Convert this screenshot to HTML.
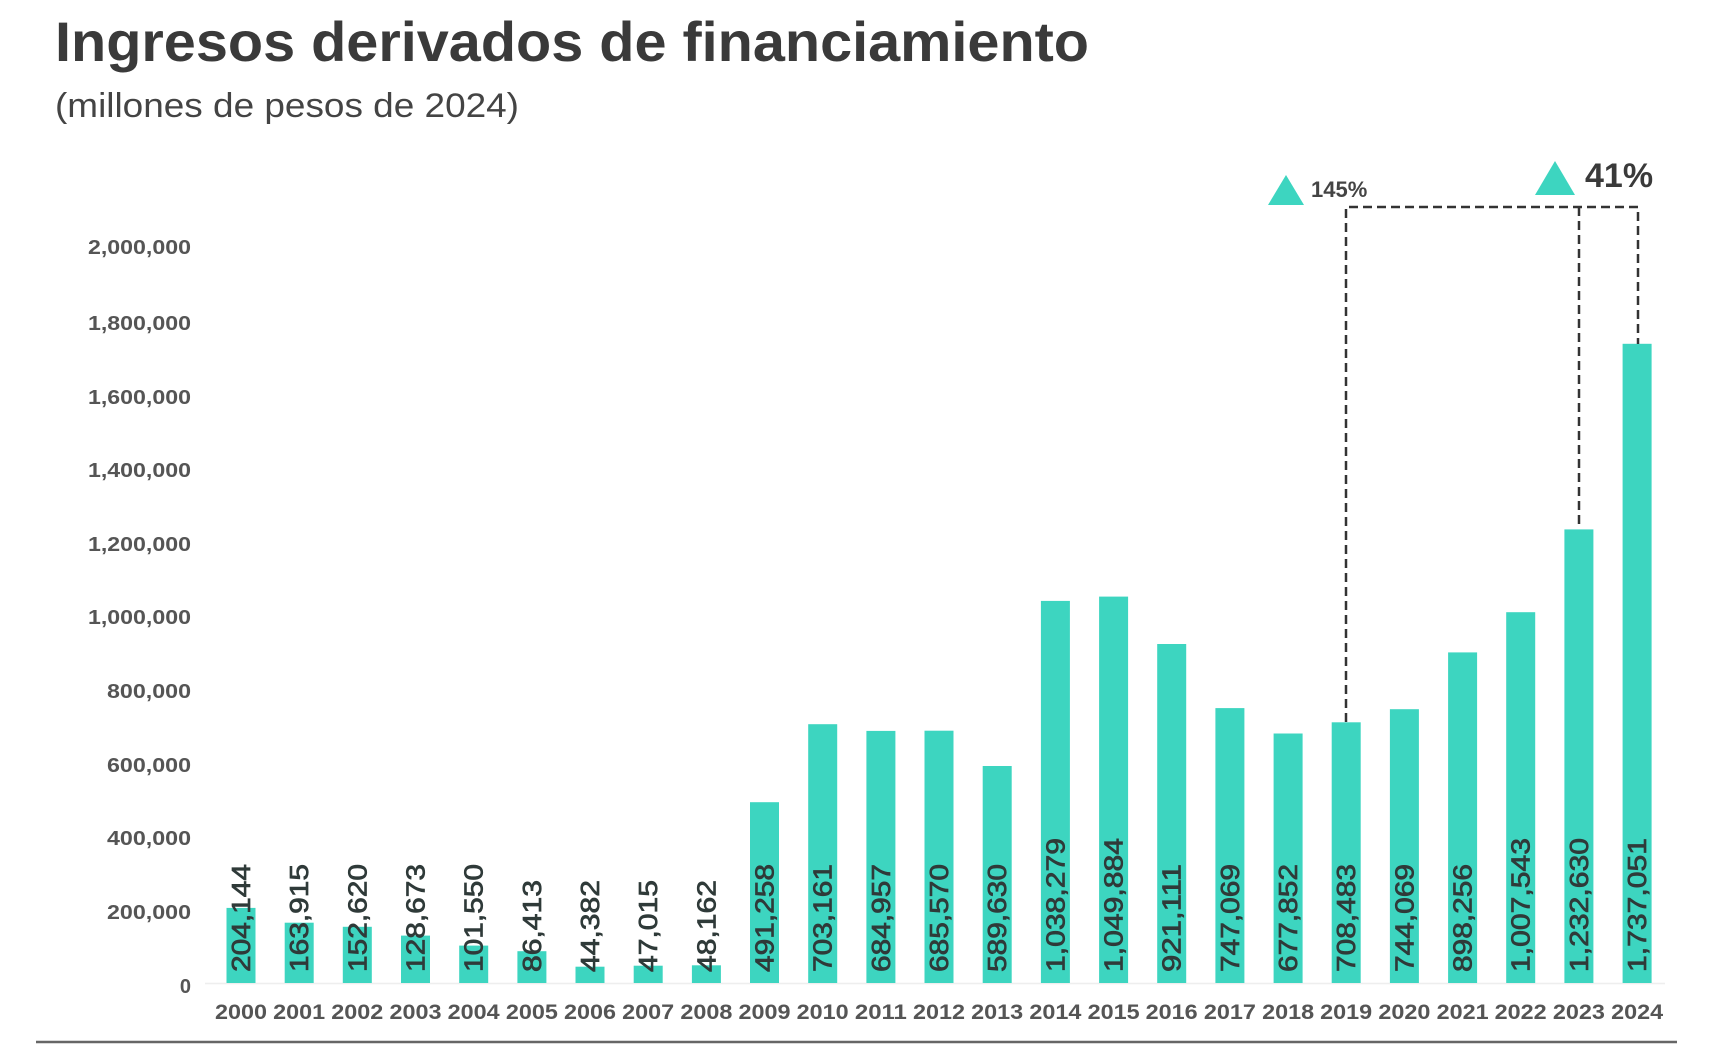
<!DOCTYPE html>
<html><head><meta charset="utf-8"><style>
html,body{margin:0;padding:0;background:#fff;}
svg{display:block;font-family:"Liberation Sans",Arial,sans-serif;}
.yl{font-size:20px;font-weight:bold;fill:#555;text-anchor:end;}
.xl{font-size:21px;font-weight:bold;fill:#555;text-anchor:middle;}
.v{font-size:26px;fill:#2f3a39;stroke:#2f3a39;stroke-width:0.7;}
rect{fill:#3dd5c0;}
</style></head><body>
<svg width="1724" height="1045" viewBox="0 0 1724 1045">
<text x="55" y="61" font-size="56" font-weight="bold" fill="#3a3a3a" textLength="1034" lengthAdjust="spacingAndGlyphs">Ingresos derivados de financiamiento</text>
<text x="55" y="117" font-size="34" fill="#444" textLength="464" lengthAdjust="spacingAndGlyphs">(millones de pesos de 2024)</text>

<g class="yl">
<text x="191" y="254" textLength="103" lengthAdjust="spacingAndGlyphs">2,000,000</text>
<text x="191" y="330" textLength="103" lengthAdjust="spacingAndGlyphs">1,800,000</text>
<text x="191" y="404" textLength="103" lengthAdjust="spacingAndGlyphs">1,600,000</text>
<text x="191" y="477" textLength="103" lengthAdjust="spacingAndGlyphs">1,400,000</text>
<text x="191" y="551" textLength="103" lengthAdjust="spacingAndGlyphs">1,200,000</text>
<text x="191" y="624" textLength="103" lengthAdjust="spacingAndGlyphs">1,000,000</text>
<text x="191" y="698" textLength="84" lengthAdjust="spacingAndGlyphs">800,000</text>
<text x="191" y="772" textLength="84" lengthAdjust="spacingAndGlyphs">600,000</text>
<text x="191" y="845" textLength="84" lengthAdjust="spacingAndGlyphs">400,000</text>
<text x="191" y="919" textLength="84" lengthAdjust="spacingAndGlyphs">200,000</text>
<text x="191" y="993">0</text>
</g>
<line x1="205" y1="983.5" x2="1665" y2="983.5" stroke="#eee" stroke-width="1.5"/>

<g>
<rect x="226.5" y="907.9" width="29" height="75.1"/>
<rect x="284.7" y="922.7" width="29" height="60.3"/>
<rect x="342.8" y="926.8" width="29" height="56.2"/>
<rect x="401.0" y="935.6" width="29" height="47.4"/>
<rect x="459.2" y="945.6" width="29" height="37.4"/>
<rect x="517.4" y="951.2" width="29" height="31.8"/>
<rect x="575.5" y="966.7" width="29" height="16.3"/>
<rect x="633.7" y="965.7" width="29" height="17.3"/>
<rect x="691.9" y="965.3" width="29" height="17.7"/>
<rect x="750.0" y="802.2" width="29" height="180.8"/>
<rect x="808.2" y="724.2" width="29" height="258.8"/>
<rect x="866.4" y="730.9" width="29" height="252.1"/>
<rect x="924.5" y="730.7" width="29" height="252.3"/>
<rect x="982.7" y="766.0" width="29" height="217.0"/>
<rect x="1040.9" y="600.9" width="29" height="382.1"/>
<rect x="1099.1" y="596.6" width="29" height="386.4"/>
<rect x="1157.2" y="644.0" width="29" height="339.0"/>
<rect x="1215.4" y="708.1" width="29" height="274.9"/>
<rect x="1273.6" y="733.5" width="29" height="249.5"/>
<rect x="1331.7" y="722.3" width="29" height="260.7"/>
<rect x="1389.9" y="709.2" width="29" height="273.8"/>
<rect x="1448.1" y="652.4" width="29" height="330.6"/>
<rect x="1506.2" y="612.2" width="29" height="370.8"/>
<rect x="1564.4" y="529.4" width="29" height="453.6"/>
<rect x="1622.6" y="343.8" width="29" height="639.2"/>
</g>

<g class="v">
<text transform="translate(250,972) rotate(-90)" textLength="108" lengthAdjust="spacingAndGlyphs">204,144</text>
<text transform="translate(308.2,972) rotate(-90)" textLength="108" lengthAdjust="spacingAndGlyphs">163,915</text>
<text transform="translate(366.3,972) rotate(-90)" textLength="108" lengthAdjust="spacingAndGlyphs">152,620</text>
<text transform="translate(424.5,972) rotate(-90)" textLength="108" lengthAdjust="spacingAndGlyphs">128,673</text>
<text transform="translate(482.7,972) rotate(-90)" textLength="108" lengthAdjust="spacingAndGlyphs">101,550</text>
<text transform="translate(540.9,972) rotate(-90)" textLength="92" lengthAdjust="spacingAndGlyphs">86,413</text>
<text transform="translate(599,972) rotate(-90)" textLength="92" lengthAdjust="spacingAndGlyphs">44,382</text>
<text transform="translate(657.2,972) rotate(-90)" textLength="92" lengthAdjust="spacingAndGlyphs">47,015</text>
<text transform="translate(715.4,972) rotate(-90)" textLength="92" lengthAdjust="spacingAndGlyphs">48,162</text>
<text transform="translate(773.5,972) rotate(-90)" textLength="108" lengthAdjust="spacingAndGlyphs">491,258</text>
<text transform="translate(831.7,972) rotate(-90)" textLength="108" lengthAdjust="spacingAndGlyphs">703,161</text>
<text transform="translate(889.9,972) rotate(-90)" textLength="108" lengthAdjust="spacingAndGlyphs">684,957</text>
<text transform="translate(948,972) rotate(-90)" textLength="108" lengthAdjust="spacingAndGlyphs">685,570</text>
<text transform="translate(1006.2,972) rotate(-90)" textLength="108" lengthAdjust="spacingAndGlyphs">589,630</text>
<text transform="translate(1064.4,972) rotate(-90)" textLength="134" lengthAdjust="spacingAndGlyphs">1,038,279</text>
<text transform="translate(1122.6,972) rotate(-90)" textLength="134" lengthAdjust="spacingAndGlyphs">1,049,884</text>
<text transform="translate(1180.7,972) rotate(-90)" textLength="108" lengthAdjust="spacingAndGlyphs">921,111</text>
<text transform="translate(1238.9,972) rotate(-90)" textLength="108" lengthAdjust="spacingAndGlyphs">747,069</text>
<text transform="translate(1297.1,972) rotate(-90)" textLength="108" lengthAdjust="spacingAndGlyphs">677,852</text>
<text transform="translate(1355.2,972) rotate(-90)" textLength="108" lengthAdjust="spacingAndGlyphs">708,483</text>
<text transform="translate(1413.4,972) rotate(-90)" textLength="108" lengthAdjust="spacingAndGlyphs">744,069</text>
<text transform="translate(1471.6,972) rotate(-90)" textLength="108" lengthAdjust="spacingAndGlyphs">898,256</text>
<text transform="translate(1529.7,972) rotate(-90)" textLength="134" lengthAdjust="spacingAndGlyphs">1,007,543</text>
<text transform="translate(1587.9,972) rotate(-90)" textLength="134" lengthAdjust="spacingAndGlyphs">1,232,630</text>
<text transform="translate(1646.1,972) rotate(-90)" textLength="134" lengthAdjust="spacingAndGlyphs">1,737,051</text>
</g>

<g class="xl">
<text x="241" y="1019" textLength="52" lengthAdjust="spacingAndGlyphs">2000</text>
<text x="299.2" y="1019" textLength="52" lengthAdjust="spacingAndGlyphs">2001</text>
<text x="357.3" y="1019" textLength="52" lengthAdjust="spacingAndGlyphs">2002</text>
<text x="415.5" y="1019" textLength="52" lengthAdjust="spacingAndGlyphs">2003</text>
<text x="473.7" y="1019" textLength="52" lengthAdjust="spacingAndGlyphs">2004</text>
<text x="531.9" y="1019" textLength="52" lengthAdjust="spacingAndGlyphs">2005</text>
<text x="590" y="1019" textLength="52" lengthAdjust="spacingAndGlyphs">2006</text>
<text x="648.2" y="1019" textLength="52" lengthAdjust="spacingAndGlyphs">2007</text>
<text x="706.4" y="1019" textLength="52" lengthAdjust="spacingAndGlyphs">2008</text>
<text x="764.5" y="1019" textLength="52" lengthAdjust="spacingAndGlyphs">2009</text>
<text x="822.7" y="1019" textLength="52" lengthAdjust="spacingAndGlyphs">2010</text>
<text x="880.9" y="1019" textLength="52" lengthAdjust="spacingAndGlyphs">2011</text>
<text x="939" y="1019" textLength="52" lengthAdjust="spacingAndGlyphs">2012</text>
<text x="997.2" y="1019" textLength="52" lengthAdjust="spacingAndGlyphs">2013</text>
<text x="1055.4" y="1019" textLength="52" lengthAdjust="spacingAndGlyphs">2014</text>
<text x="1113.6" y="1019" textLength="52" lengthAdjust="spacingAndGlyphs">2015</text>
<text x="1171.7" y="1019" textLength="52" lengthAdjust="spacingAndGlyphs">2016</text>
<text x="1229.9" y="1019" textLength="52" lengthAdjust="spacingAndGlyphs">2017</text>
<text x="1288.1" y="1019" textLength="52" lengthAdjust="spacingAndGlyphs">2018</text>
<text x="1346.2" y="1019" textLength="52" lengthAdjust="spacingAndGlyphs">2019</text>
<text x="1404.4" y="1019" textLength="52" lengthAdjust="spacingAndGlyphs">2020</text>
<text x="1462.6" y="1019" textLength="52" lengthAdjust="spacingAndGlyphs">2021</text>
<text x="1520.7" y="1019" textLength="52" lengthAdjust="spacingAndGlyphs">2022</text>
<text x="1578.9" y="1019" textLength="52" lengthAdjust="spacingAndGlyphs">2023</text>
<text x="1637.1" y="1019" textLength="52" lengthAdjust="spacingAndGlyphs">2024</text>
</g>

<g fill="none" stroke="#333" stroke-width="2.5" stroke-dasharray="9 5">
<path d="M1346 722 V207 H1638 V344"/>
<path d="M1579 207 V529"/>
</g>

<polygon points="1268,205 1286,175 1304,205" fill="#3dd5c0"/>
<text x="1311" y="197" font-size="22" font-weight="bold" fill="#444">145%</text>
<polygon points="1535,195 1555,161 1575,195" fill="#3dd5c0"/>
<text x="1585" y="187" font-size="34" font-weight="bold" fill="#3a3a3a">41%</text>

<line x1="36" y1="1042" x2="1677" y2="1042" stroke="#666" stroke-width="2.5"/>
</svg>
</body></html>
